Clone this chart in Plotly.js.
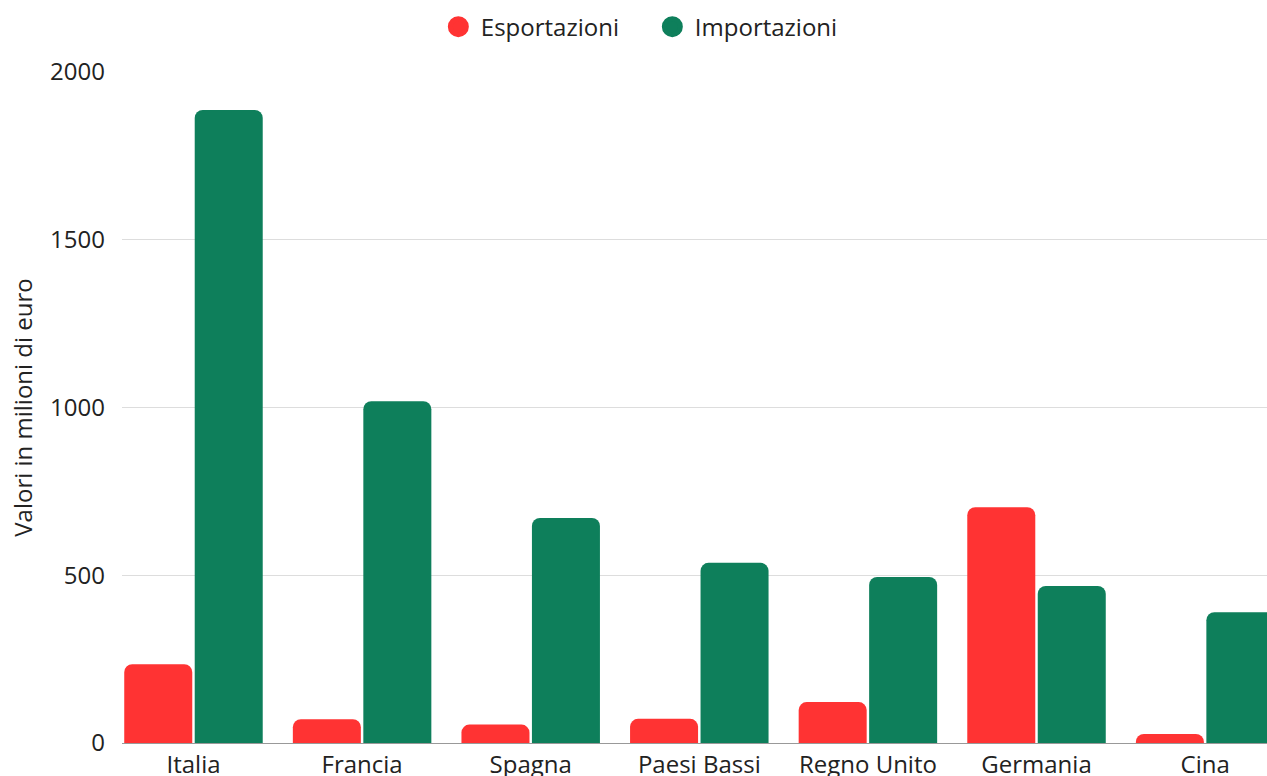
<!DOCTYPE html>
<html>
<head>
<meta charset="utf-8">
<script src="https://cdn.plot.ly/plotly-3.0.1.min.js"></script>
<style>html,body{margin:0;padding:0;background:#fff;}#chart{width:1267px;height:776px;}</style>
</head>
<body>
<div id="chart"></div>
<script>
const categories = ["Italia", "Francia", "Spagna", "Paesi Bassi", "Regno Unito", "Germania", "Cina"];
const esportazioni = [235, 71, 55, 72, 122, 703, 27];
const importazioni = [1887, 1019, 671, 537, 495, 468, 390];
const seriesNames = ["Esportazioni", "Importazioni"];
const colors = ["#FF3333", "#0E7F5B"];

const data = [
  {type: "bar", x: categories, y: esportazioni, name: seriesNames[0], marker: {color: colors[0]}, showlegend: false, hoverinfo: "x+y"},
  {type: "bar", x: categories, y: importazioni, name: seriesNames[1], marker: {color: colors[1]}, showlegend: false, hoverinfo: "x+y"},
  {type: "scatter", mode: "markers", x: [null], y: [null], name: seriesNames[0], marker: {color: colors[0], size: 16, symbol: "circle", line: {color: colors[0], width: 5}}, showlegend: true},
  {type: "scatter", mode: "markers", x: [null], y: [null], name: seriesNames[1], marker: {color: colors[1], size: 16, symbol: "circle", line: {color: colors[1], width: 5}}, showlegend: true}
];

const layout = {
  width: 1267, height: 776,
  margin: {l: 122, r: 0, t: 72, b: 33, pad: 0},
  paper_bgcolor: "#fff", plot_bgcolor: "#fff",
  font: {family: "Open Sans, sans-serif", color: "#222", size: 24},
  barmode: "group",
  bargap: 0.164,
  bargroupgap: 0.035,
  barcornerradius: 8,
  showlegend: true,
  legend: {orientation: "h", x: 0.461, xanchor: "center", y: 1.067, yanchor: "middle", font: {size: 24, color: "#222"}, itemwidth: 35, entrywidth: 164, traceorder: "normal"},
  xaxis: {
    type: "category", range: [-0.424, 6.367], showgrid: false, zeroline: false,
    showline: true, linecolor: "#999", linewidth: 1, ticks: "", tickfont: {size: 24, color: "#222"}, fixedrange: true
  },
  yaxis: {
    range: [0, 2000], tickvals: [0, 500, 1000, 1500, 2000], showgrid: true, gridcolor: "#DDDDDD", gridwidth: 1,
    zeroline: false, showline: false, ticks: "", ticklabelstandoff: 16, tickfont: {size: 24, color: "#222"},
    title: {text: "Valori in milioni di euro", font: {size: 24, color: "#222"}, standoff: 10}, fixedrange: true
  }
};

Plotly.newPlot("chart", data, layout, {displayModeBar: false, staticPlot: true});
</script>
</body>
</html>
